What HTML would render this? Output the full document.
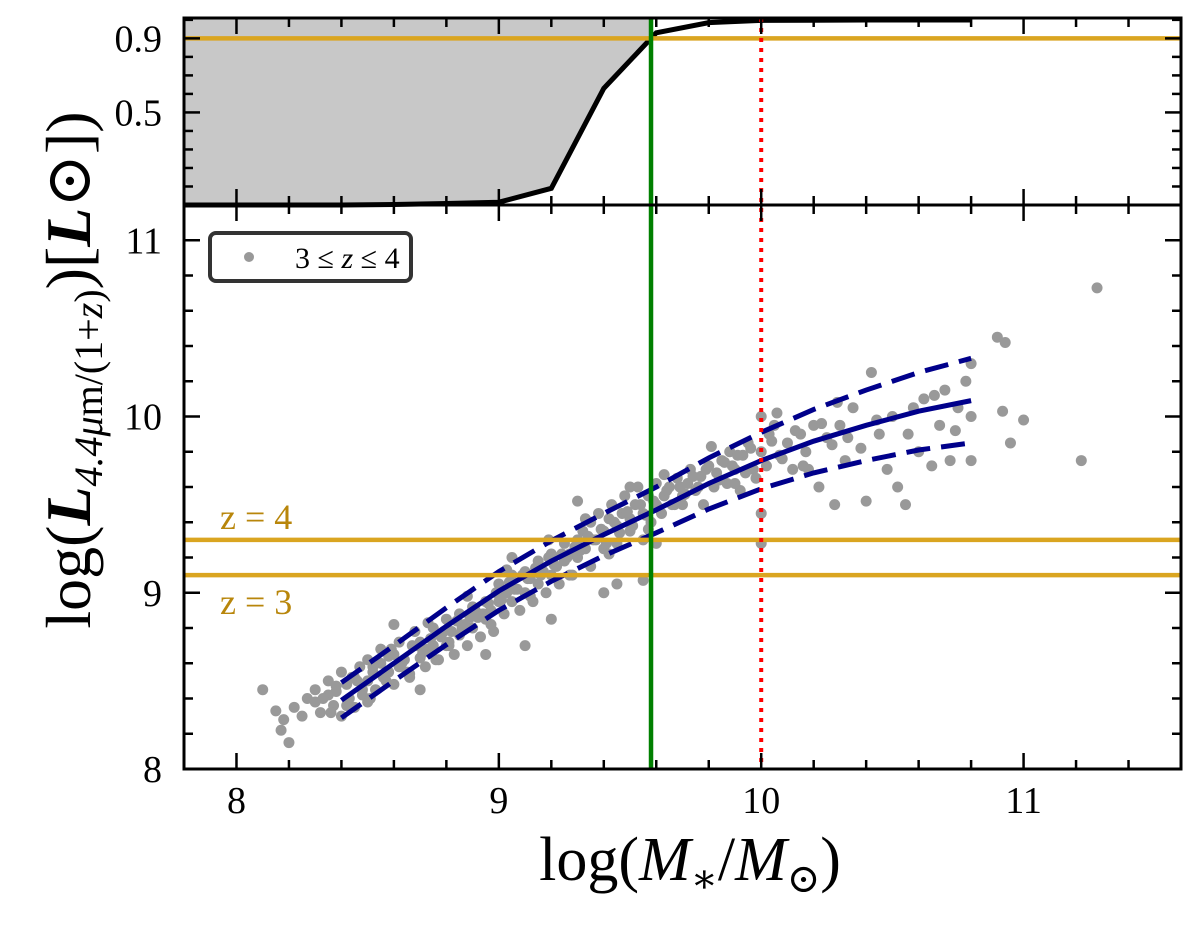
<!DOCTYPE html>
<html><head><meta charset="utf-8">
<style>
html,body{margin:0;padding:0;background:#fff;}
svg text{font-family:"Liberation Serif","DejaVu Serif",serif;}
</style></head>
<body>
<svg id="chart" width="1200" height="939" viewBox="0 0 1200 939" xmlns="http://www.w3.org/2000/svg">
<g id="topPanel"></g>
<g id="botPanel"></g>
<g id="overlay"></g>
<text x="220" y="529" font-size="36" fill="#b8860b">z = 4</text>
<text x="220" y="614" font-size="36" fill="#b8860b">z = 3</text>
<g>
<rect x="210" y="233" width="201" height="48" rx="6" fill="#fff" stroke="#333" stroke-width="4"/>
<circle cx="249" cy="257" r="5" fill="#999"/>
<text x="295" y="268" font-size="30">3 ≤ <tspan font-style="italic">z</tspan> ≤ 4</text>
</g>
<text x="690" y="880" font-size="62" text-anchor="middle">log(<tspan font-style="italic">M</tspan><tspan font-size="40" dy="12">∗</tspan><tspan dy="-12">/</tspan><tspan font-style="italic">M</tspan><tspan font-size="40" dy="12">⊙</tspan><tspan dy="-12">)</tspan></text>
<text transform="translate(90,370) rotate(-90)" font-size="64" text-anchor="middle">log(<tspan font-style="italic" font-weight="bold">L</tspan><tspan font-size="40" dy="12"><tspan font-style="italic">4.4μ</tspan>m/(1+<tspan font-style="italic">z</tspan>)</tspan><tspan dy="-12">)[</tspan><tspan font-style="italic" font-weight="bold">L</tspan><tspan>⊙</tspan>])</text>
</svg>
<script>
// ---- data ----
const fracX = [7.8, 8.0, 8.2, 8.4, 8.6, 8.8, 9.0, 9.2, 9.4, 9.6, 9.8, 10.0, 10.2, 10.4, 10.6, 10.8];
const fracY = [0.0, 0.0, 0.0, 0.0, 0.003, 0.008, 0.015, 0.09, 0.63, 0.93, 0.985, 0.997, 0.998, 0.999, 0.999, 0.999];
const fitX = [8.4, 8.6, 8.8, 9.0, 9.2, 9.4, 9.6, 9.8, 10.0, 10.2, 10.4, 10.6, 10.8];
const fitMean = [8.39, 8.60, 8.81, 9.01, 9.18, 9.33, 9.47, 9.62, 9.75, 9.86, 9.95, 10.03, 10.09];
const fitSig = [0.10, 0.10, 0.105, 0.11, 0.115, 0.12, 0.13, 0.145, 0.16, 0.18, 0.20, 0.22, 0.24];
const xTicks = [8, 9, 10, 11];
const yTicks = [8, 9, 10, 11];
const topTicks = [0.5, 0.9];
const zLines = [9.1, 9.3];
const complLine = 0.9;
const massLimit = 9.58;
const refMass = 10.0;
const ptsX = [8.1,8.15,8.17,8.2,8.18,8.22,8.25,8.27,8.3,8.3,8.32,8.35,8.35,8.37,8.38,8.4,8.4,8.42,8.43,8.45,8.45,8.47,8.48,8.5,8.5,8.5,8.52,8.53,8.55,8.55,8.57,8.58,8.6,8.6,8.62,8.62,8.64,8.65,8.67,8.68,8.7,8.7,8.72,8.73,8.75,8.75,8.77,8.78,8.8,8.8,8.82,8.83,8.85,8.85,8.87,8.88,8.9,8.9,8.92,8.93,8.95,8.95,8.97,8.98,9.0,9.0,9.02,9.03,9.05,9.05,9.07,9.08,9.1,9.1,9.12,9.13,9.15,9.15,9.17,9.18,9.2,9.2,9.22,9.23,9.25,9.25,9.27,9.28,9.3,9.3,9.32,9.33,9.35,9.35,9.37,9.38,9.4,9.4,9.42,9.43,9.45,9.45,9.47,9.48,9.5,9.5,9.52,9.53,9.55,9.55,9.57,9.58,9.6,9.6,9.62,9.63,9.65,9.67,9.68,9.7,9.72,9.73,9.75,9.77,9.78,9.8,9.82,9.83,9.85,9.87,9.88,9.9,9.92,9.93,9.95,9.97,9.98,10.0,10.0,10.02,10.03,10.05,10.07,10.1,10.12,10.15,10.17,10.2,10.22,10.25,10.28,10.3,10.32,10.35,10.38,10.4,10.42,10.45,10.48,10.5,10.52,10.55,10.58,10.6,10.62,10.65,10.68,10.7,10.72,10.75,10.78,10.8,10.8,10.8,10.9,10.92,10.93,10.95,11.0,11.22,11.28,9.6,9.45,9.4,9.55,10.0,10.0,9.1,9.2,8.95,8.7,9.3,9.05,8.6,
8.33,8.38,8.42,8.46,8.48,8.52,8.56,8.58,8.63,8.66,8.69,8.71,8.74,8.76,8.79,8.81,8.84,8.86,8.89,8.91,8.94,8.96,8.99,9.01,9.04,9.06,9.09,9.11,9.14,9.16,9.19,9.21,9.24,9.26,9.29,9.31,9.34,9.36,9.39,9.41,9.44,9.46,9.49,9.51,9.54,9.56,9.59,9.61,9.64,9.66,9.69,9.71,9.74,9.76,9.79,9.84,9.86,9.89,9.91,9.94,9.96,10.04,10.08,10.13,10.18,10.23,10.27,10.33,10.44,10.56,10.66,10.74,
8.36,8.44,8.51,8.59,8.66,8.73,8.81,8.88,8.97,9.03,9.12,9.19,9.27,9.33,9.42,9.5,9.57,9.63,9.7,9.81,9.9,10.06,10.16,10.29];
const ptsY = [8.45,8.33,8.22,8.15,8.28,8.35,8.3,8.4,8.45,8.38,8.32,8.42,8.5,8.36,8.44,8.55,8.3,8.48,8.4,8.52,8.35,8.58,8.45,8.5,8.62,8.38,8.55,8.45,8.6,8.68,8.5,8.55,8.65,8.48,8.72,8.58,8.62,8.55,8.7,8.78,8.63,8.72,8.58,8.68,8.8,8.7,8.62,8.75,8.85,8.7,8.78,8.65,8.88,8.76,8.82,8.7,8.92,8.8,8.86,8.75,8.95,8.85,8.9,8.78,9.05,8.95,8.88,9.0,9.1,8.95,9.02,8.9,9.12,9.0,9.08,8.95,9.18,9.05,9.12,9.0,9.22,9.1,9.15,9.05,9.28,9.18,9.22,9.1,9.3,9.2,9.35,9.25,9.4,9.15,9.3,9.45,9.35,9.25,9.42,9.5,9.38,9.28,9.45,9.55,9.42,9.35,9.5,9.6,9.45,9.3,9.55,9.4,9.5,9.62,9.45,9.55,9.6,9.5,9.65,9.55,9.62,9.7,9.58,9.66,9.5,9.72,9.6,9.68,9.75,9.62,9.8,9.7,9.58,9.78,9.85,9.7,9.65,9.8,10.0,9.72,9.9,9.95,9.78,9.85,9.7,9.9,9.8,9.95,9.6,9.88,9.5,9.95,9.75,10.05,9.82,9.52,10.25,9.9,9.7,10.0,9.6,9.5,10.05,9.8,10.1,9.72,9.95,10.15,9.75,10.05,10.2,9.75,10.0,10.3,10.45,10.03,10.42,9.85,9.98,9.75,10.73,9.28,9.05,9.0,9.07,9.28,9.45,8.7,8.85,8.65,8.45,9.52,9.2,8.82,
8.4,8.47,8.36,8.5,8.42,8.58,8.52,8.64,8.6,8.54,8.7,8.66,8.74,8.62,8.78,8.72,8.84,8.8,8.86,8.9,8.88,8.94,9.0,8.96,9.06,9.02,9.1,9.08,9.14,9.1,9.2,9.16,9.22,9.2,9.26,9.24,9.32,9.3,9.36,9.28,9.4,9.34,9.46,9.38,9.5,9.44,9.52,9.48,9.58,9.5,9.6,9.56,9.66,9.6,9.7,9.64,9.74,9.72,9.78,9.68,9.82,9.86,9.76,9.92,9.7,9.96,9.84,9.88,9.98,9.9,10.12,9.92,
8.32,8.52,8.4,8.68,8.52,8.83,8.7,8.98,8.82,9.13,8.98,9.3,9.1,9.42,9.22,9.6,9.36,9.67,9.5,9.83,9.62,10.02,9.72,10.08];

// ---- axes ----
const AXL = 184, AXR = 1181;
const xs = v => AXL + (v - 7.8) / (11.6 - 7.8) * (AXR - AXL);
const bT = 205, bB = 769;
const ys = v => bB - (v - 8) / (11.2 - 8) * (bB - bT);
const tT = 18, tB = 205;
const yt = v => tB - v / 1.01 * (tB - tT);
const SVGNS = 'http://www.w3.org/2000/svg';
function mk(parent, tag, attrs) {
  const e = document.createElementNS(SVGNS, tag);
  for (const k in attrs) e.setAttribute(k, attrs[k]);
  parent.appendChild(e);
  return e;
}
const topG = document.getElementById('topPanel');
const botG = document.getElementById('botPanel');
const ovG = document.getElementById('overlay');

const fillPts = [[xs(7.8), yt(1.01)]];
for (let i = 0; i < fracX.length; i++) {
  if (fracX[i] <= massLimit) fillPts.push([xs(fracX[i]), yt(fracY[i])]);
}
for (let i = 0; i < fracX.length - 1; i++) {
  if (fracX[i] <= massLimit && fracX[i + 1] > massLimit) {
    const f = (massLimit - fracX[i]) / (fracX[i + 1] - fracX[i]);
    fillPts.push([xs(massLimit), yt(fracY[i] + f * (fracY[i + 1] - fracY[i]))]);
  }
}
fillPts.push([xs(massLimit), yt(1.01)]);
const fillEl = mk(topG, 'polygon', {points: fillPts.map(p => p.join(',')).join(' '), fill: '#c8c8c8'});


const curve = mk(topG, 'polyline', {points: fracX.map((x, i) => xs(x) + ',' + yt(fracY[i])).join(' '), fill: 'none', stroke: '#000', 'stroke-width': 5});



for (let i = 0; i < ptsX.length; i++) {
  const c = mk(botG, 'circle', {cx: xs(ptsX[i]), cy: ys(ptsY[i]), r: 5.5, fill: '#999'});
  
  
}
function fitLine(k, dash, name) {
  const p = mk(botG, 'polyline', {points: fitX.map((x, i) => xs(x) + ',' + ys(fitMean[i] + k * fitSig[i])).join(' '), fill: 'none', stroke: '#00008b', 'stroke-width': 5, 'stroke-dasharray': dash});
  
  
}
fitLine(0, 'none', 'fit-median');
fitLine(1, '24,11', 'fit-upper');
fitLine(-1, '24,11', 'fit-lower');

zLines.forEach(z => {
  const l = mk(ovG, 'line', {x1: AXL, x2: AXR, y1: ys(z), y2: ys(z), stroke: '#daa520', 'stroke-width': 4.5});
  
  
});
const cl = mk(ovG, 'line', {x1: AXL, x2: AXR, y1: yt(complLine), y2: yt(complLine), stroke: '#daa520', 'stroke-width': 4.5});


const gl = mk(ovG, 'line', {x1: xs(massLimit), x2: xs(massLimit), y1: tT, y2: bB, stroke: '#008000', 'stroke-width': 4.5});


const rl = mk(ovG, 'line', {x1: xs(refMass), x2: xs(refMass), y1: tT, y2: bB, stroke: '#ff0000', 'stroke-width': 4, 'stroke-dasharray': '4,6'});



[[tT, tB, 'top-frame'], [bT, bB, 'bottom-frame']].forEach(([a, b, n]) => {
  const r = mk(ovG, 'rect', {x: AXL, y: a, width: AXR - AXL, height: b - a, fill: 'none', stroke: '#000', 'stroke-width': 3});
  
  
});
function tick(x1, y1, x2, y2) {
  const t = mk(ovG, 'line', {x1, y1, x2, y2, stroke: '#000', 'stroke-width': 2.5});
  
  
}
for (let v = 7.8; v <= 11.61; v += 0.2) {
  const x = xs(v), maj = Math.abs(v - Math.round(v)) < 1e-6;
  const len = maj ? 16 : 9;
  [tT, bT].forEach(y => tick(x, y, x, y + len));
  [tB, bB].forEach(y => tick(x, y, x, y - len));
}
for (let v = 8; v <= 11.21; v += 0.2) {
  const y = ys(v), maj = Math.abs(v - Math.round(v)) < 1e-6;
  const len = maj ? 16 : 9;
  tick(AXL, y, AXL + len, y); tick(AXR, y, AXR - len, y);
}
for (let v = 0.1; v <= 1.0; v += 0.1) {
  const y = yt(v), maj = topTicks.some(t => Math.abs(t - v) < 1e-6);
  const len = maj ? 16 : 9;
  tick(AXL, y, AXL + len, y); tick(AXR, y, AXR - len, y);
}
xTicks.forEach(v => {
  const t = mk(ovG, 'text', {x: xs(v), y: bB + 44, 'font-size': 38, 'text-anchor': 'middle'});
  t.textContent = v;
  
  
});
yTicks.forEach(v => {
  const t = mk(ovG, 'text', {x: AXL - 22, y: ys(v) + 13, 'font-size': 38, 'text-anchor': 'end'});
  t.textContent = v;
  
  
});
topTicks.forEach(v => {
  const t = mk(ovG, 'text', {x: AXL - 22, y: yt(v) + 13, 'font-size': 38, 'text-anchor': 'end'});
  t.textContent = v;
  
  
});
</script>
</body></html>
